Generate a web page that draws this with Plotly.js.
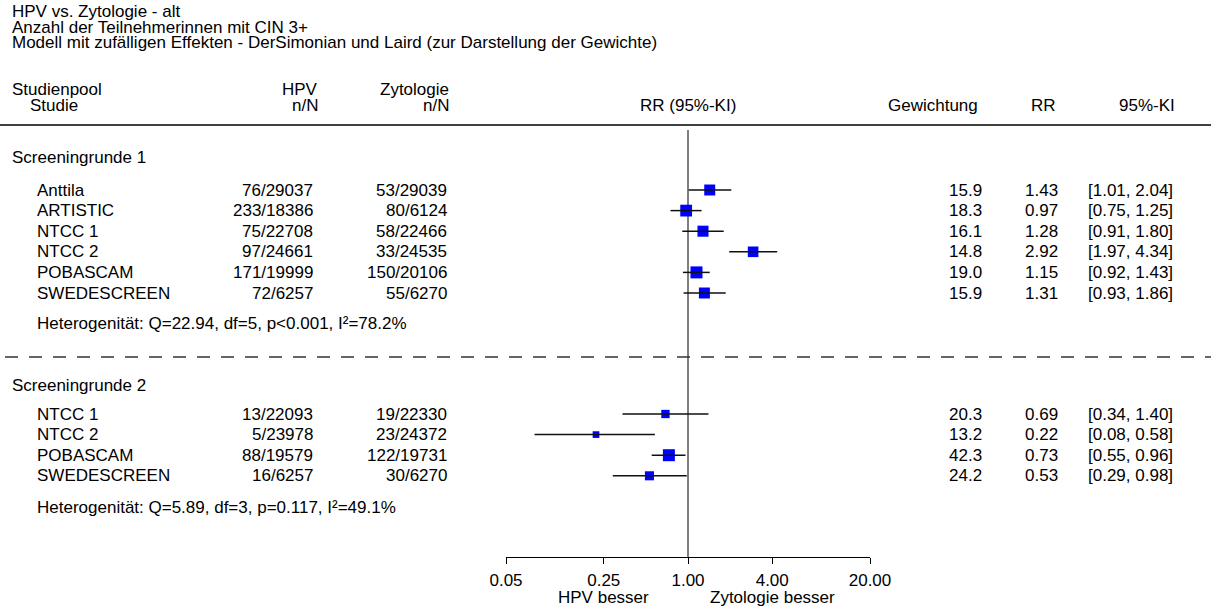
<!DOCTYPE html>
<html>
<head>
<meta charset="utf-8">
<script src="https://cdn.plot.ly/plotly-3.0.1.min.js"></script>
<style>html,body{margin:0;padding:0;background:#fff;}#chart{width:1211px;height:608px;}</style>
</head>
<body>
<div id="chart"></div>
<script>
// ---- data ----
const titleLines = ['HPV vs. Zytologie - alt', 'Anzahl der Teilnehmerinnen mit CIN 3+',
  'Modell mit zufälligen Effekten - DerSimonian und Laird (zur Darstellung der Gewichte)'];
const groupNames = ['Screeningrunde 1', 'Screeningrunde 2'];
const heterogeneity = ['Heterogenität: Q=22.94, df=5, p&lt;0.001, I²=78.2%',
  'Heterogenität: Q=5.89, df=3, p=0.117, I²=49.1%'];

const studies1 = ['Anttila', 'ARTISTIC', 'NTCC 1', 'NTCC 2', 'POBASCAM', 'SWEDESCREEN'];
const hpv1 = ['76/29037', '233/18386', '75/22708', '97/24661', '171/19999', '72/6257'];
const zyt1 = ['53/29039', '80/6124', '58/22466', '33/24535', '150/20106', '55/6270'];
const weight1 = [15.9, 18.3, 16.1, 14.8, 19.0, 15.9];
const rr1 = [1.43, 0.97, 1.28, 2.92, 1.15, 1.31];
const lo1 = [1.01, 0.75, 0.91, 1.97, 0.92, 0.93];
const hi1 = [2.04, 1.25, 1.80, 4.34, 1.43, 1.86];

const studies2 = ['NTCC 1', 'NTCC 2', 'POBASCAM', 'SWEDESCREEN'];
const hpv2 = ['13/22093', '5/23978', '88/19579', '16/6257'];
const zyt2 = ['19/22330', '23/24372', '122/19731', '30/6270'];
const weight2 = [20.3, 13.2, 42.3, 24.2];
const rr2 = [0.69, 0.22, 0.73, 0.53];
const lo2 = [0.34, 0.08, 0.55, 0.29];
const hi2 = [1.40, 0.58, 0.96, 0.98];

const tickVals = [0.05, 0.25, 1, 4, 20];
const tickText = ['0.05', '0.25', '1.00', '4.00', '20.00'];
const sideLabels = ['HPV besser', 'Zytologie besser'];

// ---- layout helpers ----
const W = 1211, H = 608;
const FONT = '"Liberation Sans", Arial, sans-serif';
const FS = 17;
const px = v => v / W;
const annotations = [];
function txt(x, y, text, anchor) {
  annotations.push({xref: 'paper', yref: 'y', x: px(x), y: y, text: text, showarrow: false,
    xanchor: anchor || 'left', yanchor: 'middle', font: {family: FONT, size: FS, color: '#000'}});
}

titleLines.forEach((t, i) => txt(10, 11.5 + i * 15.5, t));
txt(10, 89.5, 'Studienpool'); txt(28, 105, 'Studie');
txt(320, 89.5, 'HPV', 'right'); txt(320, 105, 'n/N', 'right');
txt(451, 89.5, 'Zytologie', 'right'); txt(451, 105, 'n/N', 'right');
annotations.push({xref: 'x', yref: 'y', x: 0, y: 105, text: 'RR (95%-KI)', showarrow: false,
  xanchor: 'center', yanchor: 'middle', font: {family: FONT, size: FS, color: '#000'}});
txt(980, 105, 'Gewichtung', 'right'); txt(1058, 105, 'RR', 'right'); txt(1177, 105, '95%-KI', 'right');

const groups = [
  {s: studies1, h: hpv1, z: zyt1, w: weight1, rr: rr1, lo: lo1, hi: hi1, head: 157, first: 190, het: 323},
  {s: studies2, h: hpv2, z: zyt2, w: weight2, rr: rr2, lo: lo2, hi: hi2, head: 385, first: 414, het: 507}
];
const STEP = 20.6, MAXSIZE = 12;
const mx = [], my = [], ms = [], lx = [], ly = [];
groups.forEach((g, gi) => {
  txt(10, g.head, groupNames[gi]);
  const wmax = Math.max(...g.w);
  g.s.forEach((name, i) => {
    const y = g.first + i * STEP;
    txt(35, y, name);
    txt(315, y, g.h[i], 'right');
    txt(449, y, g.z[i], 'right');
    txt(984, y, g.w[i].toFixed(1), 'right');
    txt(1060, y, g.rr[i].toFixed(2), 'right');
    txt(1175, y, '[' + g.lo[i].toFixed(2) + ', ' + g.hi[i].toFixed(2) + ']', 'right');
    mx.push(g.rr[i]); my.push(y); ms.push(MAXSIZE * Math.sqrt(g.w[i] / wmax));
    lx.push(g.lo[i], g.hi[i], null); ly.push(y, y, null);
  });
  txt(35, g.het, heterogeneity[gi]);
});

// side labels under axis
[0.25, 4].forEach((v, i) => annotations.push({xref: 'x', yref: 'y', x: Math.log10(v), y: 597,
  text: sideLabels[i], showarrow: false, xanchor: 'center', yanchor: 'middle',
  font: {family: FONT, size: FS, color: '#000'}}));

const traces = [
  {type: 'scatter', mode: 'markers', x: mx, y: my, hoverinfo: 'skip', opacity: 1,
   marker: {symbol: 'square', size: ms, color: '#0000ff', opacity: 1, line: {width: 0}}},
  {type: 'scatter', mode: 'lines', x: lx, y: ly, hoverinfo: 'skip', connectgaps: false,
   line: {color: '#111', width: 1.5}}
];

const layout = {
  width: W, height: H, margin: {l: 0, r: 0, t: 0, b: 0},
  paper_bgcolor: '#fff', plot_bgcolor: 'rgba(0,0,0,0)', showlegend: false,
  font: {family: FONT, size: FS, color: '#000'},
  xaxis: {type: 'log', domain: [506 / W, 870 / W], range: [Math.log10(0.05), Math.log10(20)],
    anchor: 'free', position: 1 - 557 / H, showline: true, linecolor: '#000', linewidth: 1,
    ticks: 'outside', ticklen: 6, tickcolor: '#000', tickvals: tickVals, ticktext: tickText,
    ticklabelstandoff: 2,
    showgrid: false, zeroline: false, tickfont: {family: FONT, size: FS, color: '#000'}, fixedrange: true},
  yaxis: {range: [H, 0], domain: [0, 1], visible: false, fixedrange: true},
  shapes: [
    {type: 'line', xref: 'paper', yref: 'y', x0: 0, x1: 1, y0: 125, y1: 125, line: {color: '#000', width: 1.5}},
    {type: 'line', xref: 'paper', yref: 'y', x0: 5 / W, x1: 1, y0: 357, y1: 357, line: {color: '#333', width: 1.5, dash: '13px,11px'}},
    {type: 'line', xref: 'x', yref: 'y', x0: 1, x1: 1, y0: 130, y1: 557, line: {color: '#000', width: 1}, layer: 'below'}
  ],
  annotations: annotations
};
Plotly.newPlot('chart', traces, layout, {displayModeBar: false, staticPlot: true});
</script>
</body>
</html>
